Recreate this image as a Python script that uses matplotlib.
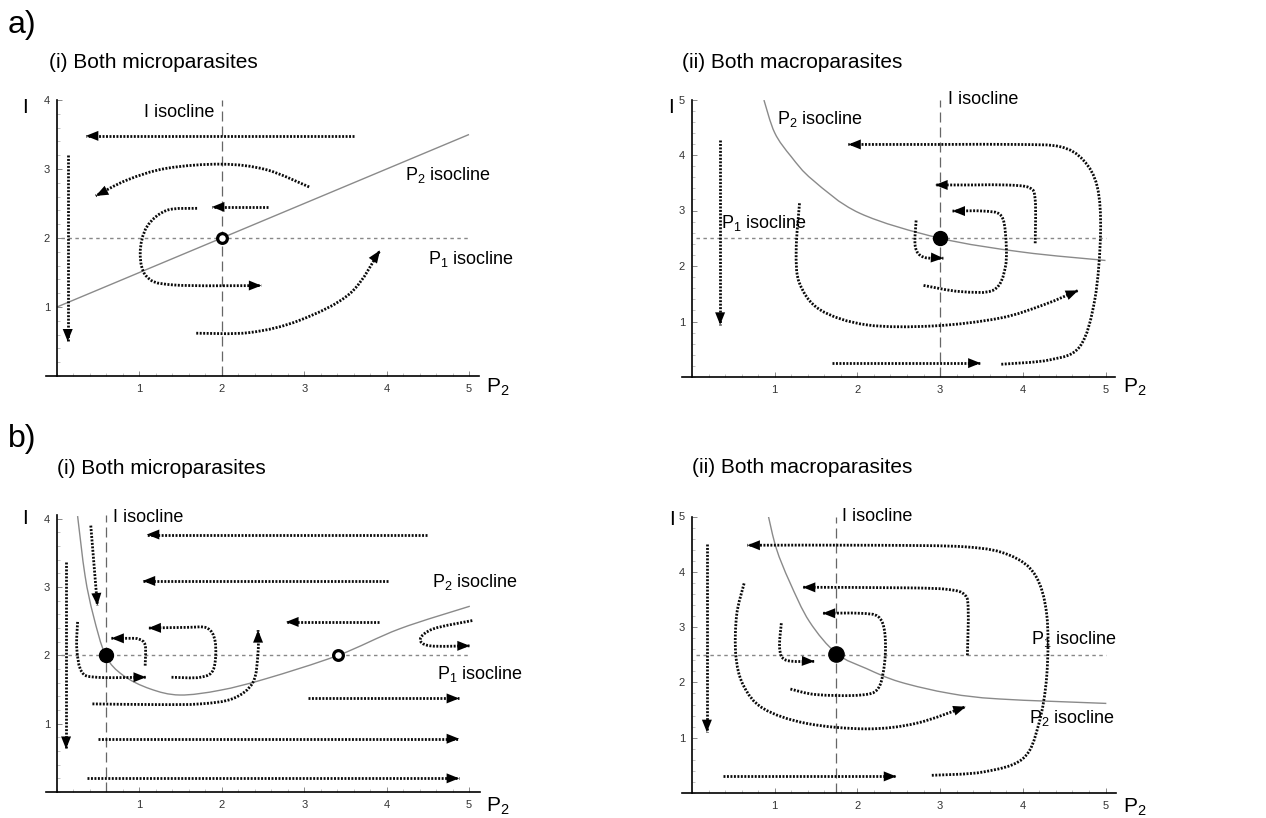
import numpy as np
import matplotlib
matplotlib.use('Agg')
import matplotlib.pyplot as plt
from matplotlib.path import Path
from matplotlib.patches import FancyArrowPatch, PathPatch, ArrowStyle
from matplotlib.ticker import MultipleLocator, FixedLocator

plt.rcParams['font.family'] = ['Liberation Sans', 'DejaVu Sans']
plt.rcParams['mathtext.default'] = 'regular'

# ------------------------------------------------------------------ data
x_ticks = [1, 2, 3, 4, 5]
ai_y_ticks = [1, 2, 3, 4]
aii_y_ticks = [1, 2, 3, 4, 5]
bi_y_ticks = [1, 2, 3, 4]
bii_y_ticks = [1, 2, 3, 4, 5]

# equilibria / isocline levels
ai_I_iso_x, ai_P1_iso_y = 2.0, 2.0
aii_I_iso_x, aii_P1_iso_y = 3.0, 2.5
bi_I_iso_x, bi_P1_iso_y = 0.59, 2.0
bii_I_iso_x, bii_P1_iso_y = 1.74, 2.5

ai_open_eq = [(2.0, 2.0)]
aii_filled_eq = [(3.0, 2.5)]
bi_filled_eq = [(0.59, 2.0)]
bi_open_eq = [(3.41, 2.0)]
bii_filled_eq = [(1.74, 2.52)]

# P2 isoclines
ai_P2_x = [0.0, 5.0]
ai_P2_y = [1.0, 3.5]
aii_P2_x = [0.87, 1.0, 1.2, 1.46, 2.03, 3.0, 4.0, 5.0]
aii_P2_y = [4.99, 4.4, 3.97, 3.55, 2.95, 2.5, 2.25, 2.1]
bi_P2_x = [0.25, 0.34, 0.44, 0.59, 0.80, 1.13, 1.49, 1.98, 2.54, 3.41, 4.16, 5.01]
bi_P2_y = [4.04, 3.17, 2.59, 2.0, 1.71, 1.51, 1.42, 1.49, 1.66, 2.0, 2.39, 2.72]
bii_P2_x = [0.92, 1.02, 1.18, 1.42, 1.75, 2.11, 2.51, 3.12, 3.72, 5.01]
bii_P2_y = [5.03, 4.42, 3.82, 3.10, 2.52, 2.25, 2.01, 1.80, 1.70, 1.62]

# trajectories: (x list, y list), arrow at the last point
ai_traj = [
    ([3.60, 0.35], [3.48, 3.48]),
    ([0.13, 0.13], [3.20, 0.50]),
    ([3.06, 2.54, 2.0, 1.33, 0.85, 0.47], [2.74, 2.99, 3.07, 3.01, 2.84, 2.61]),
    ([2.56, 1.88], [2.45, 2.45]),
    ([1.70, 1.33, 1.09, 1.01, 1.09, 1.41, 2.48], [2.43, 2.40, 2.16, 1.78, 1.44, 1.32, 1.31]),
    ([1.69, 2.34, 2.95, 3.56, 3.92], [0.62, 0.63, 0.81, 1.20, 1.82]),
]
aii_traj = [
    ([0.34, 0.34], [4.27, 0.94]),
    ([3.74, 4.33, 4.69, 4.87, 4.94, 4.90, 4.73, 4.45, 3.93, 3.00, 1.89],
     [0.23, 0.31, 0.55, 1.39, 2.59, 3.43, 3.91, 4.15, 4.19, 4.19, 4.19]),
    ([4.15, 4.15, 4.08, 3.80, 3.40, 2.94], [2.41, 3.19, 3.41, 3.46, 3.46, 3.46]),
    ([2.80, 3.24, 3.65, 3.79, 3.79, 3.73, 3.52, 3.15],
     [1.65, 1.54, 1.57, 1.99, 2.59, 2.92, 2.99, 2.99]),
    ([2.71, 2.70, 2.80, 3.04], [2.82, 2.35, 2.16, 2.14]),
    ([1.30, 1.26, 1.30, 1.55, 2.11, 2.92, 3.72, 4.25, 4.67],
     [3.13, 2.29, 1.69, 1.21, 0.94, 0.92, 1.06, 1.30, 1.56]),
    ([1.69, 3.49], [0.25, 0.25]),
]
bi_traj = [
    ([0.11, 0.11], [3.37, 0.63]),
    ([0.41, 0.49], [3.90, 2.73]),
    ([4.49, 1.09], [3.77, 3.77]),
    ([4.02, 1.04], [3.09, 3.09]),
    ([3.91, 2.78], [2.49, 2.49]),
    ([3.05, 4.88], [1.37, 1.37]),
    ([0.50, 4.88], [0.78, 0.78]),
    ([0.37, 4.88], [0.20, 0.20]),
    ([0.43, 1.20, 1.74, 2.14, 2.38, 2.44, 2.44], [1.29, 1.28, 1.29, 1.37, 1.61, 2.05, 2.37]),
    ([0.25, 0.24, 0.30, 0.48, 1.08], [2.49, 2.10, 1.76, 1.68, 1.68]),
    ([1.07, 1.07, 0.99, 0.85, 0.66], [1.85, 2.15, 2.24, 2.25, 2.25]),
    ([1.39, 1.74, 1.90, 1.92, 1.82, 1.57, 1.11], [1.68, 1.68, 1.80, 2.20, 2.40, 2.41, 2.40]),
    ([5.04, 4.57, 4.41, 4.53, 5.01], [2.51, 2.39, 2.24, 2.14, 2.14]),
]
bii_traj = [
    ([0.18, 0.18], [4.51, 1.10]),
    ([2.90, 3.52, 4.00, 4.19, 4.29, 4.29, 4.15, 3.84, 3.32, 2.20, 0.67],
     [0.32, 0.38, 0.62, 1.23, 2.13, 3.22, 3.94, 4.30, 4.45, 4.48, 4.48]),
    ([3.33, 3.34, 3.30, 3.10, 2.60, 1.34], [2.49, 3.30, 3.58, 3.68, 3.71, 3.72]),
    ([1.19, 1.50, 2.03, 2.25, 2.33, 2.33, 2.25, 2.03, 1.58],
     [1.88, 1.78, 1.77, 1.89, 2.37, 2.91, 3.19, 3.25, 3.25]),
    ([1.08, 1.06, 1.14, 1.48], [3.07, 2.61, 2.40, 2.38]),
    ([0.63, 0.54, 0.53, 0.62, 0.86, 1.38, 2.11, 2.71, 3.31],
     [3.79, 3.22, 2.49, 1.95, 1.53, 1.26, 1.16, 1.26, 1.56]),
    ([0.38, 2.47], [0.30, 0.30]),
]

# ------------------------------------------------------------------ layout
W, H = 1266, 818
fig = plt.figure(figsize=(W / 100, H / 100), dpi=100)

def fx(px):
    return px / W

def fy(py):
    return 1 - py / H

def make_axes(ox, oy, sx, sy, xlim, ylim, yticks):
    left = ox + xlim[0] * sx
    right = ox + xlim[1] * sx
    top = oy - ylim[1] * sy
    bottom = oy - ylim[0] * sy
    ax = fig.add_axes([fx(left), fy(bottom), (right - left) / W, (bottom - top) / H])
    ax.set_xlim(*xlim)
    ax.set_ylim(*ylim)
    ax.patch.set_alpha(0)
    for s in ('top', 'right'):
        ax.spines[s].set_visible(False)
    ax.spines['left'].set_position(('data', 0))
    ax.spines['left'].set_linewidth(1.2)
    ax.spines['bottom'].set_linewidth(1.2)
    ax.xaxis.set_major_locator(FixedLocator(x_ticks))
    ax.yaxis.set_major_locator(FixedLocator(yticks))
    ax.xaxis.set_minor_locator(MultipleLocator(0.2))
    ax.yaxis.set_minor_locator(MultipleLocator(0.2))
    ax.set_xticklabels([str(t) for t in x_ticks])
    ax.set_yticklabels([str(t) for t in yticks])
    ax.tick_params(which='major', direction='in', length=3.5, width=0.6,
                   color='#777777', labelsize=8, labelcolor='#333333')
    ax.tick_params(which='minor', direction='in', length=2, width=0.5, color='#aaaaaa')
    ax.tick_params(axis='x', which='major', pad=6)
    ax.tick_params(axis='y', which='major', pad=5)
    return ax

def smooth_path(xs, ys):
    pts = np.column_stack([xs, ys]).astype(float)
    n = len(pts)
    if n == 2:
        return Path(pts, [Path.MOVETO, Path.LINETO])
    ext = np.vstack([pts[0], pts, pts[-1]])
    verts = [pts[0]]
    codes = [Path.MOVETO]
    for i in range(n - 1):
        p0, p1, p2, p3 = ext[i], ext[i + 1], ext[i + 2], ext[i + 3]
        verts += [p1 + (p2 - p0) / 6, p2 - (p3 - p1) / 6, p2]
        codes += [Path.CURVE4] * 3
    return Path(np.array(verts), codes)

def draw_traj(ax, xs, ys):
    p = smooth_path(xs, ys)
    # dotted shaft
    ax.add_patch(PathPatch(p, fill=False, edgecolor='#0a0a0a', lw=2.0,
                           linestyle=(0, (0.7, 0.55)), zorder=4, capstyle='butt'))
    # solid filled head
    head = FancyArrowPatch(path=p,
                           arrowstyle=ArrowStyle('-|>', head_length=0.5, head_width=0.2),
                           mutation_scale=18, lw=0, color='black', zorder=5)
    ax.add_patch(head)

def draw_isoclines(ax, Ix, P1y, P2x, P2y, ytop):
    ax.plot([Ix, Ix], [0, ytop], color='#666666', lw=0.9, ls=(0, (8, 4)), zorder=2)
    ax.plot([0.05, 5.0], [P1y, P1y], color='#888888', lw=1.0, ls=(0, (2.5, 2.5)), zorder=2)
    ax.add_patch(PathPatch(smooth_path(P2x, P2y), fill=False, edgecolor='#8a8a8a',
                           lw=1.0, zorder=2))

def draw_eq(ax, pts, filled, ms):
    for (x, y) in pts:
        if filled:
            ax.plot(x, y, 'o', ms=ms, mfc='black', mec='black', zorder=6)
        else:
            ax.plot(x, y, 'o', ms=ms, mfc='white', mec='black', mew=2.3, zorder=6)

LBL = 13

# ---------------- a(i)
ax = make_axes(57, 376, 82.4, 69.0, (-0.13, 5.12), (0, 4.0), ai_y_ticks)
draw_isoclines(ax, ai_I_iso_x, ai_P1_iso_y, ai_P2_x, ai_P2_y, 4.0)
for xs, ys in ai_traj:
    draw_traj(ax, xs, ys)
draw_eq(ax, ai_open_eq, False, 7.0)
ax.text(1.05, 3.76, 'I isocline', fontsize=LBL)
ax.text(4.22, 2.84, 'P$_2$ isocline', fontsize=LBL)
ax.text(4.50, 1.63, 'P$_1$ isocline', fontsize=LBL)

# ---------------- a(ii)
ax = make_axes(692, 377, 82.7, 55.5, (-0.12, 5.12), (0, 5.0), aii_y_ticks)
draw_isoclines(ax, aii_I_iso_x, aii_P1_iso_y, aii_P2_x, aii_P2_y, 5.0)
for xs, ys in aii_traj:
    draw_traj(ax, xs, ys)
draw_eq(ax, aii_filled_eq, True, 10)
ax.text(3.10, 4.92, 'I isocline', fontsize=LBL)
ax.text(1.03, 4.56, 'P$_2$ isocline', fontsize=LBL)
ax.text(0.355, 2.68, 'P$_1$ isocline', fontsize=LBL)

# ---------------- b(i)
ax = make_axes(57, 792, 82.4, 68.3, (-0.13, 5.13), (0, 4.05), bi_y_ticks)
draw_isoclines(ax, bi_I_iso_x, bi_P1_iso_y, bi_P2_x, bi_P2_y, 4.05)
for xs, ys in bi_traj:
    draw_traj(ax, xs, ys)
draw_eq(ax, bi_filled_eq, True, 10)
draw_eq(ax, bi_open_eq, False, 7.0)
ax.text(0.68, 3.95, 'I isocline', fontsize=LBL)
ax.text(4.55, 3.00, 'P$_2$ isocline', fontsize=LBL)
ax.text(4.61, 1.66, 'P$_1$ isocline', fontsize=LBL)

# ---------------- b(ii)
ax = make_axes(692, 793, 82.7, 55.3, (-0.12, 5.13), (0, 5.0), bii_y_ticks)
draw_isoclines(ax, bii_I_iso_x, bii_P1_iso_y, bii_P2_x, bii_P2_y, 5.0)
for xs, ys in bii_traj:
    draw_traj(ax, xs, ys)
draw_eq(ax, bii_filled_eq, True, 11)
ax.text(1.81, 4.91, 'I isocline', fontsize=LBL)
ax.text(4.10, 2.70, 'P$_1$ isocline', fontsize=LBL)
ax.text(4.08, 1.27, 'P$_2$ isocline', fontsize=LBL)

# ---------------- figure texts
fig.text(fx(8), fy(33), 'a)', fontsize=23, va='baseline')
fig.text(fx(8), fy(447), 'b)', fontsize=23, va='baseline')
fig.text(fx(49), fy(68), '(i) Both microparasites', fontsize=15, va='baseline')
fig.text(fx(682), fy(68), '(ii) Both macroparasites', fontsize=15, va='baseline')
fig.text(fx(57), fy(474), '(i) Both microparasites', fontsize=15, va='baseline')
fig.text(fx(692), fy(473), '(ii) Both macroparasites', fontsize=15, va='baseline')

for (lx, ly) in [(22, 113), (668, 113), (22, 524), (669, 525)]:
    fig.text(fx(lx), fy(ly), 'I', fontsize=15, va='baseline')
for (lx, ly) in [(486, 393), (1123, 393), (486, 812), (1123, 813)]:
    fig.text(fx(lx), fy(ly), 'P$_2$', fontsize=15, va='baseline')

fig.savefig('out.png', dpi=100)
